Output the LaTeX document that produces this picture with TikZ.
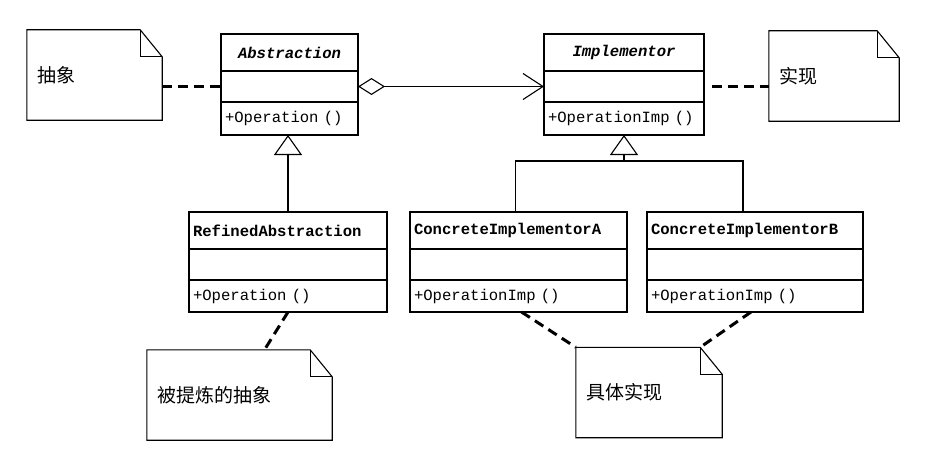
\documentclass[tikz,border=0pt]{standalone}
\usepackage{fontspec}
\usepackage{tikz}
\usetikzlibrary{arrows.meta,positioning,calc}
\newfontfamily\umlfont{Liberation Mono}
\newfontfamily\cjk{Noto Sans CJK SC}
% dog-eared outline round a note node
\newcommand{\dogear}[1]{%
  \draw[line width=1.1pt] (#1.north west) -- ([xshift=-22pt]#1.north east)
    -- ([yshift=-27pt]#1.north east) -- (#1.south east) -- (#1.south west) -- cycle;
  \draw[line width=1.1pt] ([xshift=-22pt]#1.north east) |- ([yshift=-27pt]#1.north east);}
\tikzset{
  umlhead/.style={draw, line width=1.2pt, outer sep=0pt, minimum height=37pt, inner xsep=4pt,
                  anchor=north, font=\umlfont\fontsize{15.6}{18}\selectfont\bfseries},
  umlpart/.style={draw, line width=1.2pt, outer sep=0pt, minimum height=31pt, inner xsep=4pt,
                  align=left, font=\umlfont\fontsize{15.6}{18}\selectfont},
  note/.style={minimum height=90pt, inner xsep=10pt, align=left, font=\cjk\fontsize{19}{22}\selectfont},
  notelink/.style={line width=3pt, dash pattern=on 10pt off 6pt},
  inherit/.style={-{Triangle[open, length=20pt, width=28pt]}, line width=1.1pt},
  aggr/.style={{Diamond[open, length=27pt, width=17pt]}-{Straight Barb[length=20pt, width=26pt]}, line width=1.1pt},
}

\begin{document}
\begin{tikzpicture}[x=1pt, y=-1pt]
\useasboundingbox[fill=white] (0,0) rectangle (941,452);

% abstraction side
\node[umlhead, text width=129pt, align=center] (abshead) at (289.5,34) {\itshape Abstraction};
\node[umlpart, text width=129pt, below=0pt of abshead] (absattr) {};
\node[umlpart, text width=129pt, minimum height=33pt, below=0pt of absattr] (absop) {+Operation ()};

\node[umlhead, text width=190pt, align=left] (refhead) at (288,212) {RefinedAbstraction};
\node[umlpart, text width=190pt, below=0pt of refhead] (refattr) {};
\node[umlpart, text width=190pt, minimum height=32pt, below=0pt of refattr] (refop) {+Operation ()};

% implementor side
\node[umlhead, text width=152pt, align=center] (implhead) at (624,34) {\itshape Implementor};
\node[umlpart, text width=152pt, below=0pt of implhead] (implattr) {};
\node[umlpart, text width=152pt, minimum height=33pt, below=0pt of implattr] (implop) {+OperationImp ()};

\node[umlhead, text width=209pt, align=left] (ciahead) at (518.5,212) {ConcreteImplementorA};
\node[umlpart, text width=209pt, below=0pt of ciahead] (ciaattr) {};
\node[umlpart, text width=209pt, minimum height=32pt, below=0pt of ciaattr] (ciaop) {+OperationImp ()};

\node[umlhead, text width=208pt, align=left] (cibhead) at (755,212) {ConcreteImplementorB};
\node[umlpart, text width=208pt, below=0pt of cibhead] (cibattr) {};
\node[umlpart, text width=208pt, minimum height=32pt, below=0pt of cibattr] (cibop) {+OperationImp ()};

% notes
\node[note, text width=115pt] (nabs) at (94.5,75) {抽象};
\node[note, text width=110pt] (nimpl) at (834,76) {实现};
\node[note, text width=165pt] (nref) at (239.5,395) {被提炼的抽象};
\node[note, text width=126pt] (nconc) at (649,392.5) {具体实现};
\dogear{nabs}
\dogear{nimpl}
\dogear{nref}
\dogear{nconc}

% relations
\draw[aggr] (absattr.east) -- (implattr.west);
\draw[inherit] (refhead.north) -- (refhead.north |- absop.south);
\coordinate (fork) at ([yshift=-26pt]implop.south);
\draw[line width=1.1pt] ([xshift=-3pt]ciahead.north) |- (fork) -| ([xshift=-12pt]cibhead.north);
\draw[inherit] (fork) -- (implop.south);

% note links
\draw[notelink] (nabs.east |- absattr.west) -- (absattr.west);
\draw[notelink] ([xshift=8pt]implattr.east) -- (nimpl.west |- implattr.east);
\draw[notelink] (refop.south) -- ([xshift=25pt]nref.north);
\draw[notelink] ([xshift=3pt]ciaop.south) -- (nconc.north west);
\draw[notelink] ([xshift=-4pt]cibop.south) -- ([xshift=-22pt]nconc.north east);
\end{tikzpicture}
\end{document}
